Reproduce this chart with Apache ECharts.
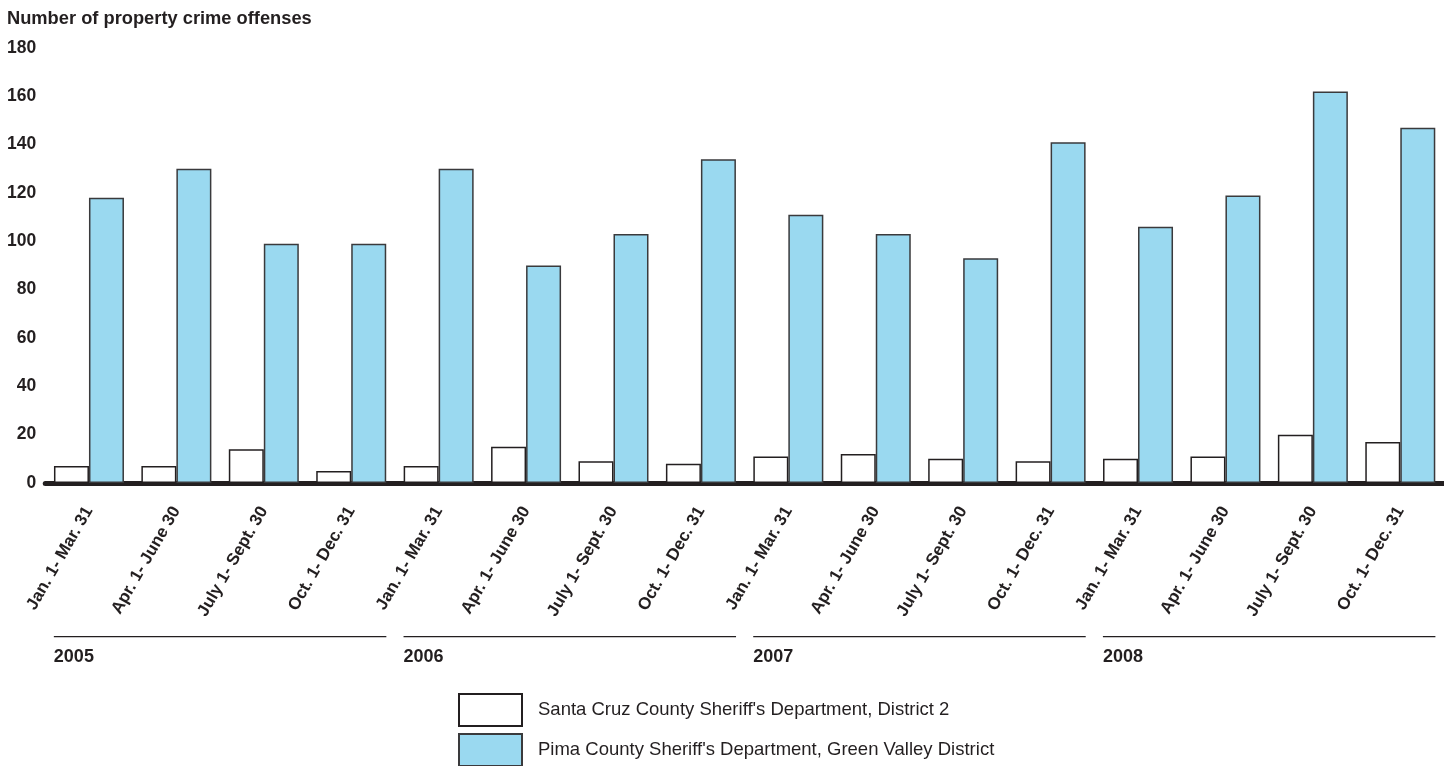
<!DOCTYPE html>
<html>
<head>
<meta charset="utf-8">
<title>Property crime offenses</title>
<script src="https://cdn.jsdelivr.net/npm/echarts@6/dist/echarts.min.js"></script>
<style>
    html, body {
        margin: 0;
        padding: 0;
        background: #fff;
    }
    #crime-chart {
        width: 1444px;
        height: 766px;
    }
</style>
</head>
<body>
<div id="crime-chart"></div>
<script>
    var quarters = [
        'Jan. 1- Mar. 31', 'Apr. 1- June 30', 'July 1- Sept. 30', 'Oct. 1- Dec. 31',
        'Jan. 1- Mar. 31', 'Apr. 1- June 30', 'July 1- Sept. 30', 'Oct. 1- Dec. 31',
        'Jan. 1- Mar. 31', 'Apr. 1- June 30', 'July 1- Sept. 30', 'Oct. 1- Dec. 31',
        'Jan. 1- Mar. 31', 'Apr. 1- June 30', 'July 1- Sept. 30', 'Oct. 1- Dec. 31'
    ];
    var years = ['2005', '2006', '2007', '2008'];
    var santaCruz = [7, 7, 14, 5, 7, 15, 9, 8, 11, 12, 10, 9, 10, 11, 20, 17];
    var pima = [118, 130, 99, 99, 130, 90, 103, 134, 111, 103, 93, 141, 106, 119, 162, 147];
    // one bar per year, drawn as a thin rule under the quarter labels
    var yearRule = [1, 1, 1, 1];

    var santaCruzName = "Santa Cruz County Sheriff's Department, District 2";
    var pimaName = "Pima County Sheriff's Department, Green Valley District";

    var font = "'Liberation Sans', Arial, sans-serif";
    var ink = '#231f20';

    // legend rows are stacked by hand, one legend per series
    function legendRow(name, top) {
        return {
            orient: 'vertical',
            left: 453,
            top: top,
            itemWidth: 63,
            itemHeight: 32,
            icon: 'rect',
            textStyle: {fontSize: 18.5, color: ink, fontFamily: font, padding: [0, 0, 0, 11]},
            data: [name]
        };
    }

    var chart = echarts.init(document.getElementById('crime-chart'));
    chart.setOption({
        animation: false,
        textStyle: {fontFamily: font},
        title: {
            text: 'Number of property crime offenses',
            left: 2,
            top: 5,
            textStyle: {fontSize: 18.3, fontWeight: 'bold', color: ink, fontFamily: font}
        },
        legend: [
            legendRow(santaCruzName, 688),
            legendRow(pimaName, 728)
        ],
        grid: [
            {left: 45.25, width: 1400, top: 48, bottom: 283},
            {left: 45.25, width: 1400, top: 636, height: 1.2}
        ],
        xAxis: [
            {
                type: 'category',
                gridIndex: 0,
                data: quarters,
                axisLine: {lineStyle: {color: ink, width: 5}},
                axisTick: {show: false},
                axisLabel: {
                    interval: 0,
                    rotate: 60,
                    margin: 25,
                    fontSize: 17,
                    fontWeight: 'bold',
                    color: ink,
                    fontFamily: font
                }
            },
            {
                type: 'category',
                gridIndex: 1,
                data: years,
                show: false
            }
        ],
        yAxis: [
            {
                type: 'value',
                gridIndex: 0,
                min: 0,
                max: 180,
                interval: 20,
                axisLine: {show: false},
                axisTick: {show: false},
                splitLine: {show: false},
                axisLabel: {margin: 9, fontSize: 17.5, fontWeight: 'bold', color: ink, fontFamily: font}
            },
            {
                type: 'value',
                gridIndex: 1,
                min: 0,
                max: 1,
                show: false
            }
        ],
        series: [
            {
                name: santaCruzName,
                type: 'bar',
                barWidth: 35,
                barGap: '0%',
                data: santaCruz,
                itemStyle: {color: '#ffffff', borderColor: ink, borderWidth: 1.5}
            },
            {
                name: pimaName,
                type: 'bar',
                barWidth: 35,
                barGap: '0%',
                data: pima,
                itemStyle: {color: '#9ad9f0', borderColor: '#3a3a3c', borderWidth: 1.5}
            },
            {
                name: 'years',
                type: 'bar',
                xAxisIndex: 1,
                yAxisIndex: 1,
                barWidth: 332.5,
                data: yearRule,
                itemStyle: {color: ink},
                label: {
                    show: true,
                    position: [0, 12],
                    formatter: '{b}',
                    fontSize: 18,
                    fontWeight: 'bold',
                    color: ink,
                    fontFamily: font
                },
                silent: true
            }
        ]
    });
</script>
</body>
</html>
